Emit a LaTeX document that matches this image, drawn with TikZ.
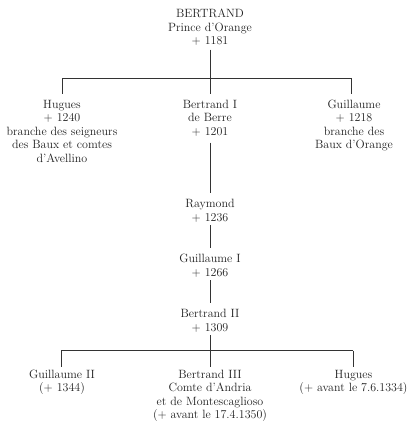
\documentclass[tikz,border=0pt]{standalone}
\begin{document}
\begin{tikzpicture}[x=1pt,y=1pt,
  pn/.style={align=center, inner sep=0pt, outer sep=0pt, anchor=north,
    text=black!88, font=\fontsize{12}{13.5}\selectfont},
  ln/.style={draw=black!80, line width=0.7pt}]
\useasboundingbox (0,0) rectangle (410,-421);
% nodes
\node[pn] (top) at (210,-8.05) {\strut BERTRAND\\Prince d'Orange\\+ 1181\strut};
\node[pn] (hug) at (62,-98.55) {\strut Hugues\\+ 1240\\branche des seigneurs\\des Baux et comtes\\d'Avellino\strut};
\node[pn] (b1) at (210,-98.55) {\strut Bertrand I\\de Berre\\+ 1201\strut};
\node[pn] (gui) at (354,-98.55) {\strut Guillaume\\+ 1218\\branche des\\Baux d'Orange\strut};
\node[pn] (ray) at (210,-198.05) {\strut Raymond\\+ 1236\strut};
\node[pn] (g1) at (210,-253.05) {\strut Guillaume I\\+ 1266\strut};
\node[pn] (b2) at (210,-308.05) {\strut Bertrand II\\+ 1309\strut};
\node[pn] (g2) at (62,-368.55) {\strut Guillaume II\\(+ 1344)\strut};
\node[pn] (b3) at (210,-368.55) {\strut Bertrand III\\Comte d'Andria\\et de Montescaglioso\\(+ avant le 17.4.1350)\strut};
\node[pn] (hu2) at (353.5,-368.55) {\strut Hugues\\(+ avant le 7.6.1334)\strut};
% junctions
\coordinate (j1) at (210,-78);
\coordinate (j1l) at (62,-78);
\coordinate (j1r) at (351,-78);
\coordinate (j2) at (210,-350.5);
\coordinate (j2l) at (61,-350.5);
\coordinate (j2r) at (353.3,-350.5);
% connectors
\draw[ln, shorten <=1pt] (top.south) -- (j1);
\draw[ln] (j1l) -- (j1r);
\draw[ln, shorten >=5pt] (j1l) -- (j1l |- hug.north);
\draw[ln, shorten >=5pt] (j1) -- (b1.north);
\draw[ln, shorten >=5pt] (j1r) -- (j1r |- gui.north);
\draw[ln, shorten <=3.5pt, shorten >=4.7pt] (b1.south) -- (ray.north);
\draw[ln, shorten >=4.8pt] (ray.south) -- (g1.north);
\draw[ln, shorten >=4.6pt] (g1.south) -- (b2.north);
\draw[ln] (b2.south) -- (j2);
\draw[ln] (j2l) -- (j2r);
\draw[ln, shorten >=2pt] (j2l) -- (j2l |- g2.north);
\draw[ln, shorten >=2pt] (j2) -- (b3.north);
\draw[ln, shorten >=2pt] (j2r) -- (j2r |- hu2.north);
\end{tikzpicture}
\end{document}
